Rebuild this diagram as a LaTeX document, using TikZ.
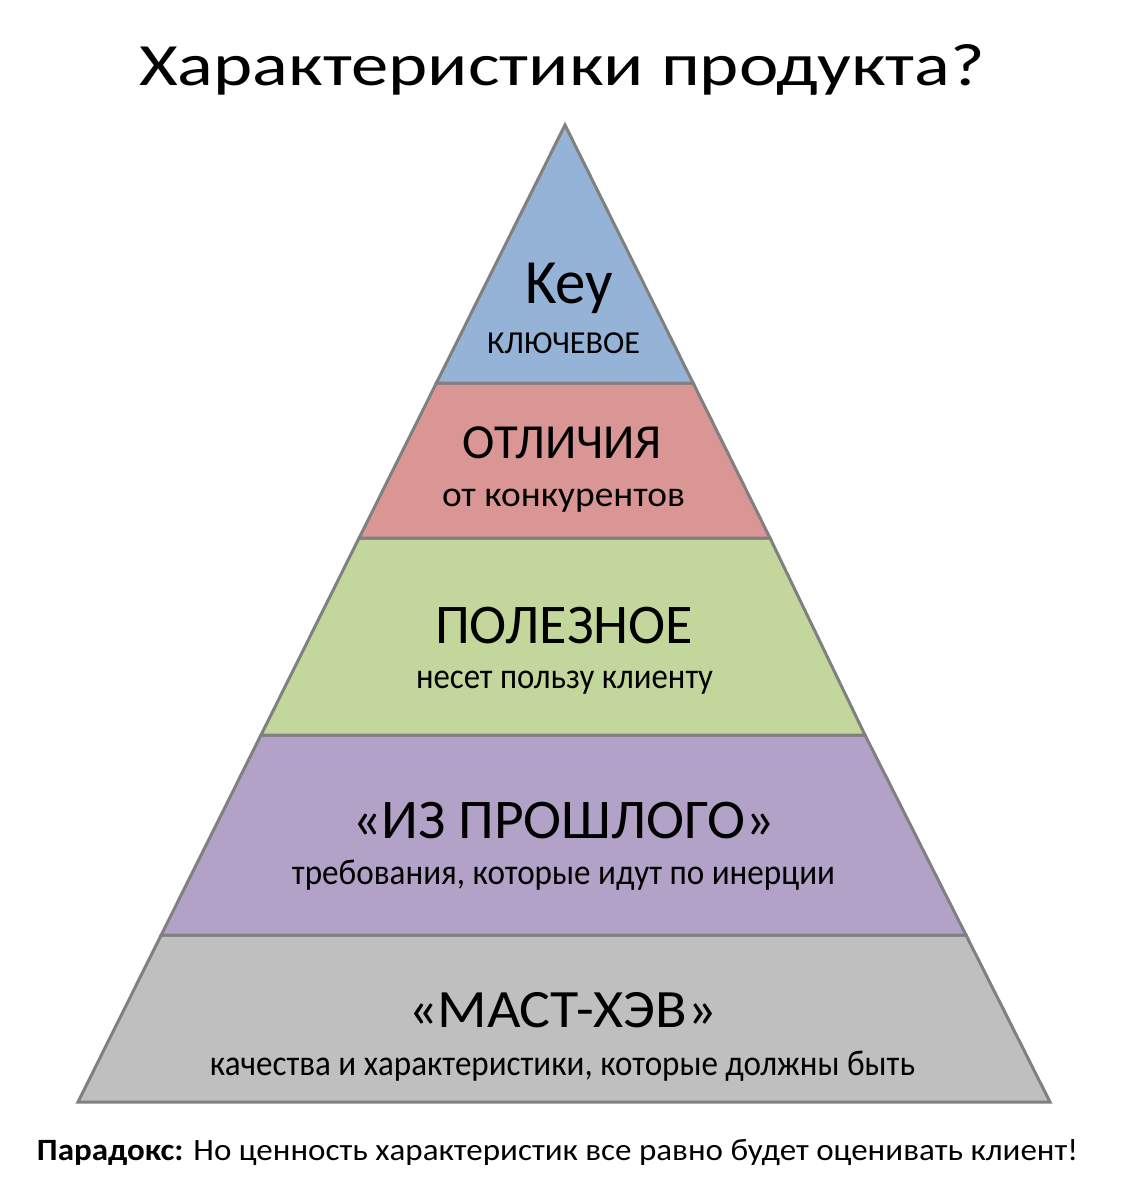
\documentclass[tikz,border=0pt]{standalone}
\usepackage{fontspec}
\setmainfont{Carlito}
\usepackage{graphicx}
\definecolor{lgray}{HTML}{808080}
\definecolor{cblue}{HTML}{95B3D7}
\definecolor{cred}{HTML}{D99694}
\definecolor{cgreen}{HTML}{C3D69B}
\definecolor{cpurple}{HTML}{B3A2C7}
\definecolor{cgray}{HTML}{BFBFBF}
\newcommand{\fitw}[3]{\resizebox{#1pt}{\height}{\fontsize{#2}{#2}\selectfont #3}}
\begin{document}
\begin{tikzpicture}[x=1pt,y=-1pt,
  layer/.style={draw=lgray, line width=3pt, line join=miter},
  lbl/.style={anchor=base, inner sep=0pt, outer sep=0pt}]
\useasboundingbox (0,0) rectangle (1130,1200);
\fill[white] (0,0) rectangle (1130,1200);
% pyramid corners
\coordinate (apex) at (565,125);
\coordinate (l1) at (436.4,383); \coordinate (r1) at (693.1,383);
\coordinate (l2) at (359.1,538); \coordinate (r2) at (770.0,538);
\coordinate (l3) at (261.0,735); \coordinate (r3) at (865.0,735);
\coordinate (l4) at (161.2,935); \coordinate (r4) at (966.0,935);
\coordinate (l5) at (78,1102);   \coordinate (r5) at (1050,1102);
% layers
\filldraw[layer, fill=cgray]   (l4) -- (r4) -- (r5) -- (l5) -- cycle;
\filldraw[layer, fill=cpurple] (l3) -- (r3) -- (r4) -- (l4) -- cycle;
\filldraw[layer, fill=cgreen]  (l2) -- (r2) -- (r3) -- (l3) -- cycle;
\filldraw[layer, fill=cred]    (l1) -- (r1) -- (r2) -- (l2) -- cycle;
\filldraw[layer, fill=cblue]   (apex) -- (r1) -- (l1) -- cycle;
% texts
\node[lbl] (title) at (562.5,85) {\fitw{845}{60}{Характеристики продукта?}};
\node[lbl] (key) at (569,303) {\fitw{88}{63}{Key}};
\node[lbl] (keysub) at (563.5,353) {\fitw{153}{32}{КЛЮЧЕВОЕ}};
\node[lbl] (diff) at (562.5,458) {\fitw{199}{49}{ОТЛИЧИЯ}};
\node[lbl] (diffsub) at (563.5,506) {\fitw{243}{36}{от конкурентов}};
\node[lbl] (use) at (564,643) {\fitw{258}{56}{ПОЛЕЗНОЕ}};
\node[lbl] (usesub) at (564.5,688) {\fitw{297}{36}{несет пользу клиенту}};
\node[lbl] (past) at (563.5,838) {\fitw{423}{56}{«ИЗ ПРОШЛОГО»}};
\node[lbl] (pastsub) at (563.5,884) {\fitw{543}{36}{требования, которые идут по инерции}};
\node[lbl] (must) at (562.5,1027) {\fitw{309}{54}{«МАСТ-ХЭВ»}};
\node[lbl] (mustsub) at (562.5,1075) {\fitw{705}{36}{качества и характеристики, которые должны быть}};
\node[lbl] (paradox) at (557.5,1160) {\fitw{1041}{31}{\textbf{Парадокс:} Но ценность характеристик все равно будет оценивать клиент!}};
\end{tikzpicture}
\end{document}
